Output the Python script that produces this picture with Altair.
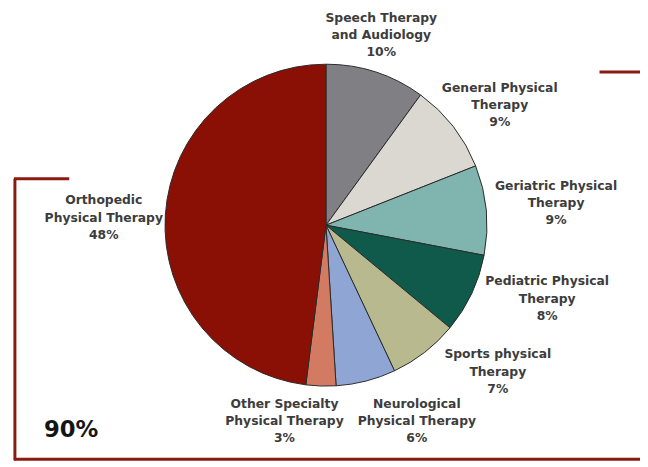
import altair as alt
import pandas as pd

categories = [
    "Speech Therapy\nand Audiology",
    "General Physical\nTherapy",
    "Geriatric Physical\nTherapy",
    "Pediatric Physical\nTherapy",
    "Sports physical\nTherapy",
    "Neurological\nPhysical Therapy",
    "Other Specialty\nPhysical Therapy",
    "Orthopedic\nPhysical Therapy",
]
values = [10, 9, 9, 8, 7, 6, 3, 48]
colors = ["#7f7f84", "#dbd8d2", "#80b4ae", "#0f5a4b", "#b9b98f", "#8fa5d3", "#d27b62", "#8a0f05"]

# label layout (chart pixel coordinates of the first line of each label)
label_x = [378, 498, 555, 546, 496, 414, 280, 97]
label_y = [7, 78, 177, 274, 348, 398, 398, 192]

df = pd.DataFrame({
    "cat": categories,
    "value": values,
    "order": list(range(len(values))),
    "label": [f"{c}\n{v}%" for c, v in zip(categories, values)],
    "lx": label_x,
    "ly": label_y,
})

RED = "#8b1a10"
CX, CY, R = 322, 217, 163

pie = alt.Chart(df).mark_arc(outerRadius=R, stroke="#2b2b2b", strokeWidth=1).encode(
    theta=alt.Theta("value:Q", stack=True),
    order=alt.Order("order:Q"),
    color=alt.Color("cat:N", scale=alt.Scale(domain=categories, range=colors), legend=None),
    x=alt.value(CX),
    y=alt.value(CY),
)

labels = alt.Chart(df).mark_text(
    lineBreak="\n", fontSize=12.5, fontWeight="bold", font="DejaVu Sans",
    color="#3c3c3c", baseline="middle", align="center", lineHeight=17.5,
).encode(
    x=alt.X("lx:Q", scale=None),
    y=alt.Y("ly:Q", scale=None),
    text="label:N",
)

big = alt.Chart(pd.DataFrame({"t": ["90%"]})).mark_text(
    fontSize=23, fontWeight="bold", font="DejaVu Sans", color="#151515",
    align="center", baseline="middle",
).encode(x=alt.value(64), y=alt.value(425), text="t:N")

line_df = pd.DataFrame({"a": [0]})
def rule(x, x2, y, y2):
    return alt.Chart(line_df).mark_rule(color=RED, strokeWidth=3).encode(
        x=alt.value(x), x2=alt.value(x2), y=alt.value(y), y2=alt.value(y2)
    )

deco = [
    rule(7, 7, 170, 455),
    rule(6, 62, 170, 170),
    rule(6, 640, 454, 454),
    rule(599, 640, 62, 62),
]

chart = alt.layer(pie, labels, big, *deco).properties(
    width=640, height=459, padding=0, autosize=alt.AutoSizeParams(type="none")
).configure_view(stroke=None)

chart.save("out.html", embed_options={"renderer": "svg", "actions": False})
